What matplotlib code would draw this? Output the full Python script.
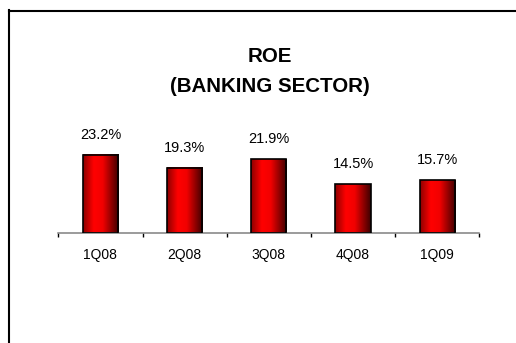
import matplotlib.pyplot as plt
import numpy as np
from matplotlib.colors import LinearSegmentedColormap
from matplotlib.lines import Line2D

quarters = ['1Q08', '2Q08', '3Q08', '4Q08', '1Q09']
roe = [23.2, 19.3, 21.9, 14.5, 15.7]

plt.rcParams['font.family'] = ['Liberation Sans', 'DejaVu Sans']

fig = plt.figure(figsize=(5.16, 3.43), dpi=100)
W, H = 516, 343

# frame lines along the top and left edge
fig.add_artist(Line2D([9 / W, 9 / W], [0, 1 - 10 / H], color='black', lw=1.5,
                      transform=fig.transFigure))
fig.add_artist(Line2D([8.5 / W, 1], [1 - 11 / H, 1 - 11 / H], color='black', lw=1.5,
                      transform=fig.transFigure))

fig.text(269.5 / W, 1 - 56 / H, 'ROE', ha='center', va='center',
         fontsize=14.8, fontweight='bold')
fig.text(269.5 / W, 1 - 86 / H, '(BANKING SECTOR)', ha='center', va='center',
         fontsize=14.8, fontweight='bold')

ymax = 30
ax = fig.add_axes([58.3 / W, (H - 232.7) / H, 421 / W, ymax * 3.37 / H])

# horizontal red gradient for the bars
cmap = LinearSegmentedColormap.from_list(
    'bar_red', [(0.0, '#8c0000'), (0.3, '#ff0000'), (0.55, '#f20000'), (1.0, '#3c0000')])
grad = np.linspace(0, 1, 256).reshape(1, -1)

x = np.arange(len(quarters))
width = 0.42
bars = ax.bar(x, roe, width=width, facecolor='none', edgecolor='black',
              linewidth=1.2, zorder=3)
for rect, val in zip(bars, roe):
    x0 = rect.get_x()
    ax.imshow(grad, cmap=cmap, extent=[x0, x0 + width, 0, val],
              aspect='auto', zorder=2, interpolation='bilinear')
    ax.annotate(f'{val}%', (rect.get_x() + width / 2, val), xytext=(0, 14.4),
                textcoords='offset points', ha='center', va='center', fontsize=10.5)
ax.set_xlim(-0.5, 4.5)
ax.set_ylim(0, ymax)

for side in ['top', 'right', 'left']:
    ax.spines[side].set_visible(False)
ax.spines['bottom'].set_color('#808080')
ax.spines['bottom'].set_linewidth(1.1)

ax.set_xticks(x)
ax.set_xticklabels(quarters, fontsize=10)
ax.set_xticks(np.arange(-0.5, 5, 1), minor=True)
ax.tick_params(axis='x', which='major', length=0, pad=11)
ax.tick_params(axis='x', which='minor', length=3, width=1, color='black')
ax.set_yticks([])

fig.savefig('out.png', dpi=100)
